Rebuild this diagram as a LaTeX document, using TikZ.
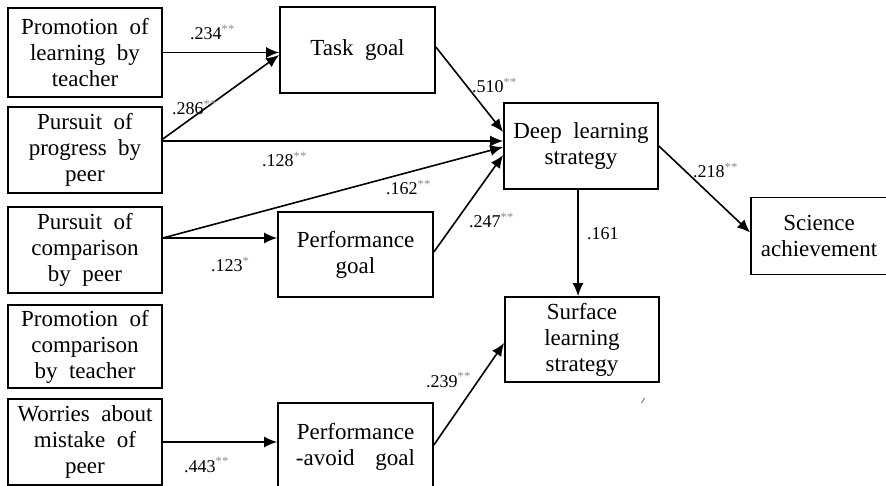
\documentclass[tikz,border=0pt]{standalone}
\usepackage{fontspec}
\setmainfont{Liberation Serif}[WordSpace=2]
\usetikzlibrary{arrows.meta,calc}
\newcommand{\lbl}[2]{#1\textsuperscript{\color{black!45}#2}}
\begin{document}
\begin{tikzpicture}[x=1pt,y=-1pt,
  box/.style={draw,line width=1.7pt,rectangle,inner sep=0pt,align=center,
    font=\fontsize{23}{26}\selectfont},
  conn/.style={line width=1.6pt,-{Latex[length=13pt,width=11pt]}},
  lab/.style={anchor=base west,inner sep=0pt,font=\fontsize{18}{20}\selectfont}]
\useasboundingbox (0,0) rectangle (886,486);
% left column
\node[box,minimum width=154pt,minimum height=89pt] (b1) at (85,52.5) {Promotion of\\learning by\\teacher};
\node[box,minimum width=154pt,minimum height=86pt] (b2) at (85,150) {Pursuit of\\progress by\\peer};
\node[box,minimum width=154pt,minimum height=86pt] (b3) at (85,250) {Pursuit of\\comparison\\by peer};
\node[box,minimum width=154pt,minimum height=83pt] (b4) at (85,346.5) {Promotion of\\comparison\\by teacher};
\node[box,minimum width=154pt,minimum height=86pt] (b5) at (85,442) {Worries about\\mistake of\\peer};
% middle
\node[box,minimum width=155pt,minimum height=86pt] (task) at (357.5,50) {Task goal};
\node[box,minimum width=155pt,minimum height=85pt] (perf) at (355.5,254.5) {Performance\\goal};
\node[box,minimum width=155pt,minimum height=88pt] (avoid) at (355.5,447) {Performance\\-avoid\hspace{0.4em} goal};
% right
\node[box,minimum width=154pt,minimum height=86pt] (deep) at (581,146) {Deep learning\\strategy};
\node[box,minimum width=154pt,minimum height=85pt] (surf) at (582,339.5) {Surface\\learning\\strategy};
\node[box,minimum width=136pt,minimum height=77pt] (sci) at (819,236) {Science\\achievement};
% connectors
\draw[conn] (b1.east) -- (b1.east -| task.west);
\draw[conn] ([yshift=11pt]b2.east) -- ([yshift=-5pt]task.west);
\draw[conn] ([yshift=9pt]b2.east) -- ([yshift=9pt]b2.east -| deep.west);
\draw[conn] ([yshift=12pt]b3.east) -- ([yshift=-1pt]deep.west);
\draw[conn] ([yshift=12pt]b3.east) -- ([yshift=12pt]b3.east -| perf.west);
\draw[conn] ([yshift=3pt]task.east) -- ([yshift=14pt]deep.west);
\draw[conn] ([yshift=2.5pt]perf.east) -- ([yshift=-9pt]deep.west);
\draw[conn] ([xshift=-3pt]deep.south) -- ([xshift=-3pt]deep.south |- surf.north);
\draw[conn] (deep.east) -- ([yshift=3.5pt]sci.west);
\draw[conn] ([yshift=2pt]avoid.east) -- ([yshift=-3.5pt]surf.west);
\draw[conn] (b5.east) -- (b5.east -| avoid.west);
% labels
\node[lab] (l1) at (190,40) {\lbl{.234}{**}};
\node[lab] (l2) at (172,115) {\lbl{.286}{**}};
\node[lab] (l3) at (262,167) {\lbl{.128}{**}};
\node[lab] (l4) at (386,195) {\lbl{.162}{**}};
\node[lab] (l5) at (211,272) {\lbl{.123}{*}};
\node[lab] (l6) at (472,93) {\lbl{.510}{**}};
\node[lab] (l7) at (469,228) {\lbl{.247}{**}};
\node[lab] (l8) at (587,240) {.161};
\node[lab] (l9) at (693,178) {\lbl{.218}{**}};
\node[lab] (l10) at (426,387) {\lbl{.239}{**}};
\node[lab] (l11) at (184,472) {\lbl{.443}{**}};
% small scan mark
\draw[line width=0.8pt,black!60] (641.5,403) -- (644.5,398);
\end{tikzpicture}
\end{document}
